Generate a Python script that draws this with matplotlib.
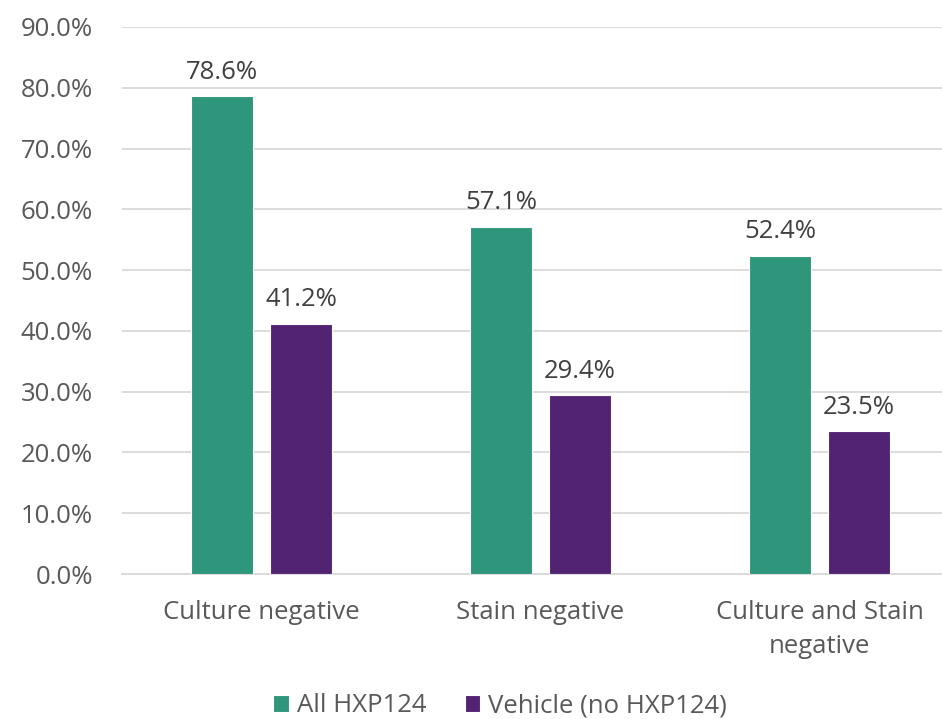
import matplotlib.pyplot as plt
import numpy as np

plt.rcParams['font.family'] = ['Open Sans', 'DejaVu Sans']

# data
categories = ['Culture negative', 'Stain negative', 'Culture and Stain\nnegative']
all_hxp = [78.6, 57.1, 52.4]
vehicle = [41.2, 29.4, 23.5]
series_names = ['All HXP124', 'Vehicle (no HXP124)']

green = '#2E967B'
purple = '#532373'
txt = '#595959'
fs = 18.5

fig = plt.figure(figsize=(9.42, 7.19), dpi=100)
ax = fig.add_axes([122/942, 1 - 574/719, 837/942, (574 - 27)/719])

x = np.arange(len(categories))
w = 0.222
off = 0.1415
b1 = ax.bar(x - off, all_hxp, w, color=green, edgecolor='white', linewidth=0.8, label=series_names[0], zorder=3)
b2 = ax.bar(x + off, vehicle, w, color=purple, edgecolor='white', linewidth=0.8, label=series_names[1], zorder=3)

for bars, vals in ((b1, all_hxp), (b2, vehicle)):
    for r, v in zip(bars, vals):
        ax.text(r.get_x() + r.get_width()/2, v + 1.9, f'{v:.1f}%', ha='center', va='bottom',
                fontsize=fs, color='#404040')

ax.set_xlim(-0.5, 2.5)
ax.set_ylim(0, 90)
ax.set_yticks(np.arange(0, 91, 10))
ax.set_yticklabels([f'{t:.1f}%' for t in np.arange(0, 91, 10)])
ax.set_xticks(x)
ax.set_xticklabels(categories, linespacing=1.45)
ax.grid(axis='y', color='#D9D9D9', linewidth=1.3, zorder=0)
for s in ['top', 'right', 'left']:
    ax.spines[s].set_visible(False)
ax.spines['bottom'].set_color('#D9D9D9')
ax.spines['bottom'].set_linewidth(1.3)
ax.tick_params(axis='both', length=0, labelsize=fs, colors=txt)
ax.tick_params(axis='x', pad=19)
ax.tick_params(axis='y', pad=21)

fig.legend(handles=[b1, b2], loc='center', bbox_to_anchor=(500/942, 1 - 706/719), ncol=2, frameon=False,
           fontsize=fs, labelcolor=txt, handlelength=0.6, handleheight=0.6, handletextpad=0.3, columnspacing=1.5)

fig.savefig('out.png', dpi=100)
